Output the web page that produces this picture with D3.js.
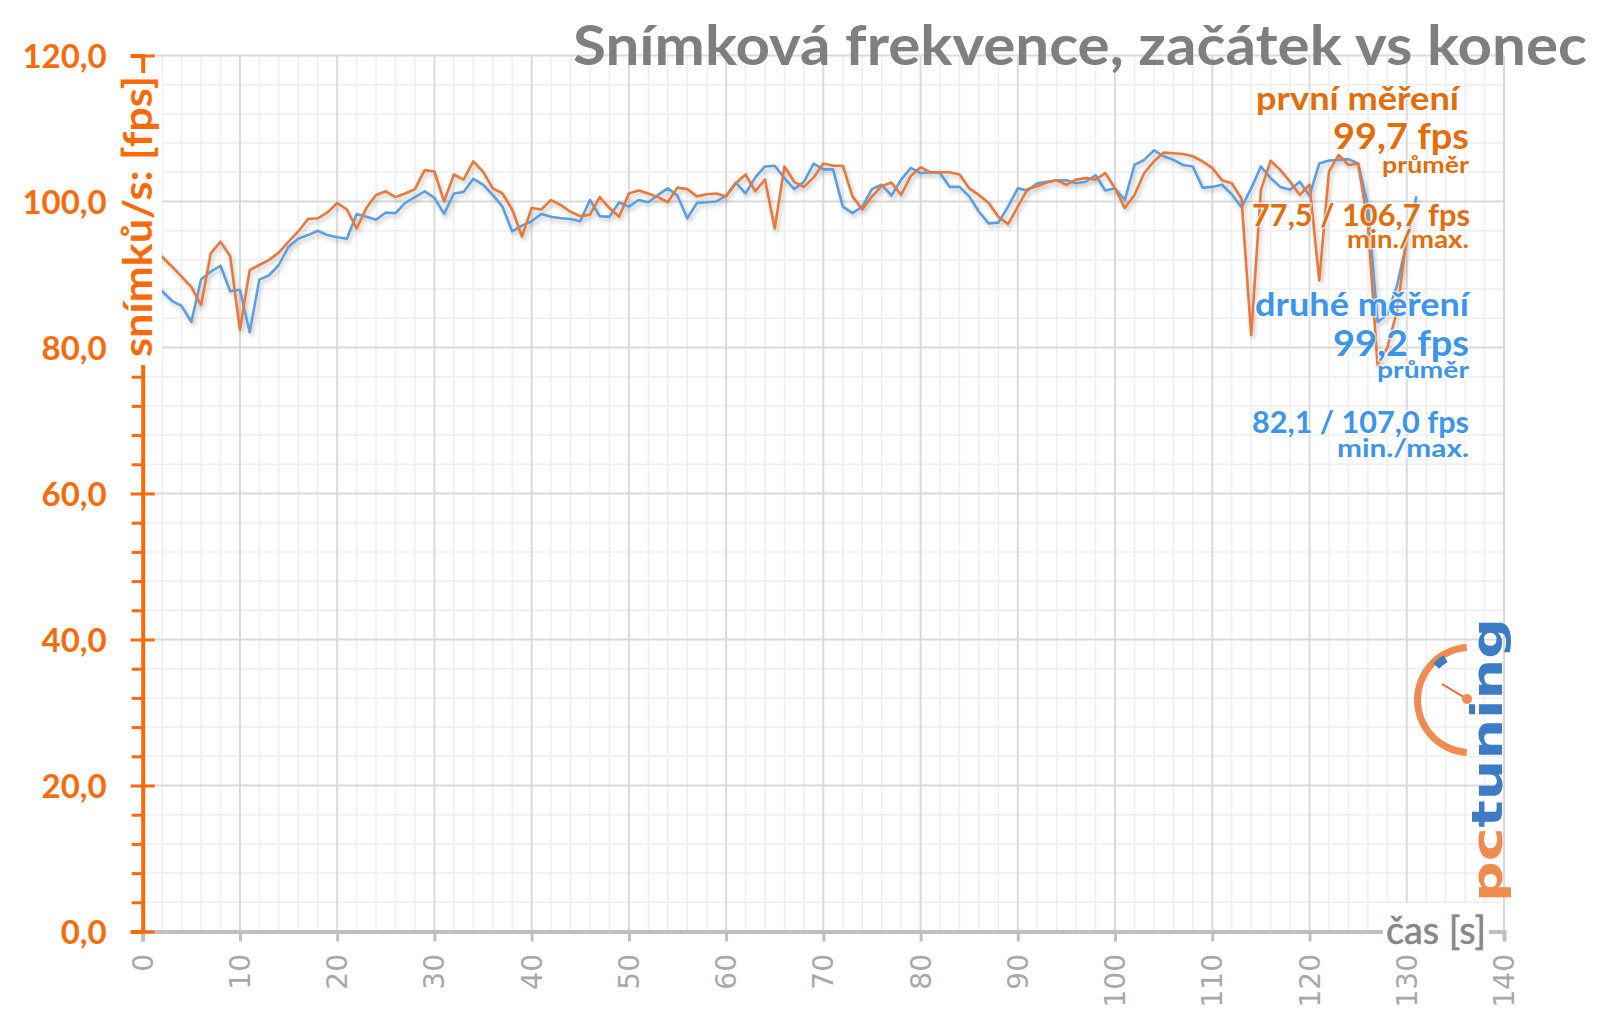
<!DOCTYPE html>
<html><head><meta charset="utf-8">
<script src="https://cdn.jsdelivr.net/npm/d3@7"></script>
<style>body{margin:0;background:#fff}svg{display:block}</style>
</head><body>
<svg id="chart" width="1600" height="1015"></svg>
<script>
// ---------- data ----------
const chartTitle = "Snímková frekvence, začátek vs konec";
const yAxisTitle = "snímků/s: [fps]";
const xAxisTitle = "čas [s]";
const xTickValues = [0,10,20,30,40,50,60,70,80,90,100,110,120,130,140];
const yTickValues = [0,20,40,60,80,100,120];
const yTickLabels = ["0,0","20,0","40,0","60,0","80,0","100,0","120,0"];
// první měření (t = 1 s ... 130 s)
const firstRun = [
 93.8,92.4,91.1,89.7,88.3,85.8,92.9,94.5,92.5,82.4,
 90.6,91.3,92.0,93.0,94.5,95.9,97.6,97.7,98.5,99.8,
 98.9,96.3,99.1,100.9,101.4,100.6,101.1,101.7,104.3,104.1,
 100.0,103.7,103.0,105.5,104.1,101.8,101.1,98.9,95.2,99.1,
 98.9,100.2,99.5,98.6,98.0,98.2,100.6,99.1,97.9,101.1,
 101.5,101.1,100.6,99.9,101.9,101.7,100.7,101.0,101.1,100.7,
 102.5,103.7,101.4,103.0,96.3,104.8,102.7,102.0,103.3,105.2,
 104.9,104.9,100.7,98.9,100.7,102.1,102.6,100.9,103.5,104.7,
 104.0,104.0,104.0,103.7,101.8,100.9,99.8,97.9,96.9,99.3,
 101.7,102.1,102.6,102.9,102.3,103.0,103.2,103.0,103.9,101.8,
 99.1,100.9,103.9,105.5,106.7,106.6,106.5,106.2,105.5,104.6,
 102.9,102.5,100.4,81.7,101.6,105.6,104.3,102.7,100.9,102.3,
 89.2,104.1,106.4,105.0,105.2,97.0,77.5,80.0,85.0,95.0
];
// druhé měření (t = 1 s ... 131 s)
const secondRun = [
 89.3,87.7,86.4,85.7,83.5,89.3,90.4,91.2,87.7,87.9,
 82.1,89.3,89.9,91.3,93.8,94.9,95.4,96.0,95.4,95.1,
 94.9,98.3,97.9,97.5,98.5,98.4,99.8,100.6,101.4,100.5,
 98.3,101.1,101.3,103.1,102.3,100.9,99.3,95.9,96.7,97.3,
 98.3,97.9,97.7,97.6,97.3,100.2,98.0,97.9,99.9,99.3,
 100.2,99.9,100.9,101.8,100.8,97.7,99.8,99.9,100.0,100.8,
 102.6,101.1,103.3,104.8,104.9,103.2,101.7,102.7,105.2,104.4,
 104.4,99.3,98.4,99.3,101.7,102.3,100.8,103.0,104.6,103.9,
 104.0,103.9,102.0,102.0,100.7,98.6,97.0,97.1,99.3,101.8,
 101.5,102.5,102.7,102.9,102.9,102.5,102.7,103.6,101.5,101.8,
 100.2,105.0,105.7,107.0,106.2,105.7,105.0,104.8,101.9,102.0,
 102.3,101.0,99.2,101.8,104.8,103.2,102.0,101.6,102.7,100.8,
 105.2,105.6,105.7,105.8,105.2,99.5,83.5,84.5,88.5,94.5,100.7
];
const legendFirst = ["první měření","99,7 fps","průměr","77,5 / 106,7 fps","min./max."];
const legendSecond = ["druhé měření","99,2 fps","průměr","82,1 / 107,0 fps","min./max."];

// ---------- styles ----------
const ORANGE_TXT = "#E46C0A", AXIS_OR = "#FA6A0A", BLUE_TXT = "#3B95EA";
const LINE_OR = "#E8783A", LINE_BL = "#5A9FE4";
const FONT = "Lato, 'Open Sans', sans-serif";

const svg = d3.select("#chart");
svg.append("rect").attr("width",1600).attr("height",1015).attr("fill","#fff");
const defs = svg.append("defs");
const f = defs.append("filter").attr("id","sh").attr("x","-5%").attr("y","-20%").attr("width","110%").attr("height","140%");
f.append("feDropShadow").attr("dx",2).attr("dy",3).attr("stdDeviation",2).attr("flood-color","#000").attr("flood-opacity",0.22);

const x = d3.scaleLinear().domain([0,140]).range([142.7,1504]);
const y = d3.scaleLinear().domain([0,120]).range([931.5,55.5]);

// ---------- grid ----------
const g = svg.append("g");
const vMinor = d3.range(0,141,2).filter(d=>d%10!==0);
const hMinor = d3.range(0,121,4).filter(d=>d%20!==0);
g.selectAll(".vm").data(vMinor).join("line").attr("x1",d=>x(d)).attr("x2",d=>x(d))
 .attr("y1",y(0)).attr("y2",y(120)).attr("stroke","#EEEEEE").attr("stroke-width",1.5);
g.selectAll(".hm").data(hMinor).join("line").attr("y1",d=>y(d)).attr("y2",d=>y(d))
 .attr("x1",x(0)).attr("x2",x(140)).attr("stroke","#EEEEEE").attr("stroke-width",1.5);
g.selectAll(".vM").data(xTickValues.slice(1)).join("line").attr("x1",d=>x(d)).attr("x2",d=>x(d))
 .attr("y1",y(0)).attr("y2",y(120)).attr("stroke","#DADADA").attr("stroke-width",2);
g.selectAll(".hM").data(yTickValues.slice(1)).join("line").attr("y1",d=>y(d)).attr("y2",d=>y(d))
 .attr("x1",x(0)).attr("x2",x(140)).attr("stroke","#DADADA").attr("stroke-width",2);

// ---------- x axis ----------
const xAxis = svg.append("g").attr("transform",`translate(0,${y(0)})`)
 .call(d3.axisBottom(x).tickValues(xTickValues).tickSize(10).tickFormat(""));
xAxis.select(".domain").attr("stroke","#BFBFBF").attr("stroke-width",4);
xAxis.selectAll(".tick line").attr("stroke","#BFBFBF").attr("stroke-width",3);
svg.append("g").selectAll("text").data(xTickValues).join("text")
 .attr("transform",d=>`translate(${x(d)+10},954) rotate(-90)`)
 .attr("text-anchor","end").attr("font-family","'DejaVu Sans', sans-serif").attr("font-weight",400)
 .attr("font-size",28).attr("fill","#A8A8A8").text(d=>d);
// x axis title
svg.append("rect").attr("x",1383).attr("y",903).attr("width",106).attr("height",52).attr("fill","#fff");
svg.append("text").attr("x",1386).attr("y",944).attr("font-family",FONT).attr("font-size",38)
 .attr("fill","#878787").attr("stroke","#878787").attr("stroke-width",0.6)
 .attr("textLength",100).attr("lengthAdjust","spacingAndGlyphs").text(xAxisTitle);

// ---------- lines ----------
const line = d3.line().x((d,i)=>x(i+1)).y(d=>y(d));
const lg = svg.append("g").attr("filter","url(#sh)");
lg.append("path").datum(secondRun).attr("d",line).attr("fill","none")
 .attr("stroke",LINE_BL).attr("stroke-width",2.6).attr("stroke-linejoin","round");
lg.append("path").datum(firstRun).attr("d",line).attr("fill","none")
 .attr("stroke",LINE_OR).attr("stroke-width",2.6).attr("stroke-linejoin","round");

// ---------- y axis ----------
const yMin = svg.append("g").attr("transform",`translate(${x(0)},0)`)
 .call(d3.axisLeft(y).tickValues(hMinor).tickSize(11).tickFormat(""));
yMin.select(".domain").remove();
yMin.selectAll(".tick line").attr("stroke",AXIS_OR).attr("stroke-width",3);
const yAx = svg.append("g").attr("transform",`translate(${x(0)},0)`)
 .call(d3.axisLeft(y).tickValues(yTickValues).tickSize(12).tickFormat((d,i)=>yTickLabels[i]).tickPadding(24));
yAx.select(".domain").attr("stroke",AXIS_OR).attr("stroke-width",4);
yAx.selectAll(".tick line").attr("stroke",AXIS_OR).attr("stroke-width",3).attr("x1",12);
yAx.selectAll(".tick text").attr("x",-36).attr("dy","0.36em").attr("font-family",FONT)
 .attr("font-weight",700).attr("font-size",33).attr("fill",AXIS_OR).attr("text-anchor","end");
// y axis title
svg.append("rect").attr("x",128).attr("y",73).attr("width",34).attr("height",292).attr("fill","#fff");
svg.append("text").attr("transform","translate(152,216.5) rotate(-90)").attr("text-anchor","middle")
 .attr("font-family",FONT).attr("font-weight",700).attr("font-size",40).attr("fill",AXIS_OR)
 .attr("textLength",281).attr("lengthAdjust","spacingAndGlyphs").text(yAxisTitle);

// ---------- title ----------
svg.append("text").attr("x",573).attr("y",65).attr("font-family",FONT).attr("font-weight",700)
 .attr("font-size",56).attr("fill","#7F7F7F").attr("textLength",1014).attr("lengthAdjust","spacingAndGlyphs")
 .text(chartTitle);

// ---------- legend texts ----------
const legendLayout = [
 {size:33, base:110, w:203, right:1459},
 {size:37, base:149, w:136, right:1469},
 {size:22, base:173, w:87, right:1469},
 {size:31, base:226, w:218, right:1470},
 {size:24, base:248, w:122, right:1469}
];
const legendLayout2 = [
 {size:33, base:316, w:214, right:1469},
 {size:37, base:356, w:136, right:1469},
 {size:22, base:378, w:92, right:1469},
 {size:31, base:433, w:217, right:1469},
 {size:24, base:457, w:132, right:1469}
];
function legend(texts, layout, color){
  svg.append("g").selectAll("text").data(texts).join("text")
   .attr("x",(d,i)=>layout[i].right-layout[i].w).attr("y",(d,i)=>layout[i].base)
   .attr("font-family",FONT).attr("font-weight",700).attr("font-size",(d,i)=>layout[i].size)
   .attr("textLength",(d,i)=>layout[i].w).attr("lengthAdjust","spacingAndGlyphs")
   .attr("fill",color).attr("stroke","rgba(255,255,255,0.65)").attr("stroke-width",3)
   .attr("paint-order","stroke").text(d=>d);
}
legend(legendFirst, legendLayout, ORANGE_TXT);
legend(legendSecond, legendLayout2, BLUE_TXT);

// ---------- logo ----------
const logo = svg.append("g");
const arc = d3.arc();
logo.append("path").attr("transform","translate(1470,700)")
 .attr("d",arc({innerRadius:49,outerRadius:56,startAngle:Math.PI*1.02,endAngle:Math.PI*1.98}))
 .attr("fill","#F08A4E");
logo.append("path").attr("transform","translate(1470,700)")
 .attr("d",arc({innerRadius:44,outerRadius:52,startAngle:5.5,endAngle:5.75}))
 .attr("fill","#3D7CC4");
logo.append("line").attr("x1",1442).attr("y1",684).attr("x2",1467).attr("y2",699)
 .attr("stroke","#E8602C").attr("stroke-width",2);
logo.append("circle").attr("cx",1467).attr("cy",699).attr("r",5).attr("fill","#F08A4E");
const lt = logo.append("text").attr("transform","translate(1502,902) rotate(-90)")
 .attr("font-family","'DejaVu Sans', sans-serif").attr("font-weight",700).attr("font-size",42)
 .attr("textLength",284).attr("lengthAdjust","spacingAndGlyphs");
lt.append("tspan").attr("fill","#F08A4E").text("pc");
lt.append("tspan").attr("fill","#3D7CC4").text("tuning");
</script>
</body></html>
